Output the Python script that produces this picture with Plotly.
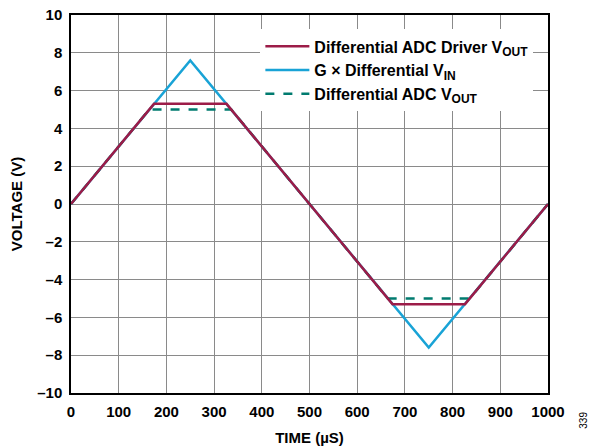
import plotly.graph_objects as go

# time (µs) and voltage (V)
t_vin = [0, 250, 750, 1000]
v_vin = [0, 7.6, -7.6, 0]

t_driver = [0, 174, 326, 674, 826, 1000]
v_driver = [0, 5.3, 5.3, -5.3, -5.3, 0]

t_adc = [0, 164, 336, 664, 836, 1000]
v_adc = [0, 5.0, 5.0, -5.0, -5.0, 0]

x_ticks = [0, 100, 200, 300, 400, 500, 600, 700, 800, 900, 1000]
y_ticks = [-10, -8, -6, -4, -2, 0, 2, 4, 6, 8, 10]
y_labels = [str(v).replace("-", "–") for v in y_ticks]

RED = "#9c1c48"
BLUE = "#19a3d6"
GREEN = "#007b6f"
FONT = "Liberation Sans"


def sub(s):
    return "<sub><span style='font-size:12px'>%s</span></sub>" % s


fig = go.Figure()
fig.add_trace(go.Scatter(x=t_vin, y=v_vin, mode="lines", name="<b>G × Differential V%s</b>" % sub("IN"),
                         line=dict(color=BLUE, width=2.5), legendrank=2))
fig.add_trace(go.Scatter(x=t_adc, y=v_adc, mode="lines", name="<b>Differential ADC V%s</b>" % sub("OUT"),
                         line=dict(color=GREEN, width=2.5, dash="dash"), legendrank=3))
fig.add_trace(go.Scatter(x=t_driver, y=v_driver, mode="lines", name="<b>Differential ADC Driver V%s</b>" % sub("OUT"),
                         line=dict(color=RED, width=2.5), legendrank=1))

axis_common = dict(showgrid=True, gridcolor="#8a8a8a", gridwidth=1, showline=True, linecolor="black",
                   linewidth=1.5, mirror=True, zeroline=False, ticks="", automargin=False,
                   ticklabeloverflow="allow",
                   tickfont=dict(family=FONT, size=15, color="black"))

# the page body has an 8px margin, so the figure is 8px smaller than the window
fig.update_xaxes(range=[0, 1000], tickvals=x_ticks, ticktext=["<b>%d</b>" % v for v in x_ticks],
                 ticklabelstandoff=4,
                 title=dict(text="<b>TIME (µS)</b>", font=dict(family=FONT, size=15, color="black"), standoff=19),
                 **axis_common)
fig.update_yaxes(range=[-10, 10], tickvals=y_ticks, ticktext=["<b>%s</b>" % s for s in y_labels],
                 ticklabelstandoff=4,
                 title=dict(text="<b>VOLTAGE (V)</b>", font=dict(family=FONT, size=15, color="black"), standoff=20),
                 **axis_common)

fig.add_annotation(text="339", xref="paper", yref="paper", x=1.09, y=-0.10, showarrow=False,
                   textangle=-90, font=dict(family=FONT, size=10, color="black"))

fig.update_layout(
    width=588, height=438,
    margin=dict(l=63, r=48, t=7, b=53),
    plot_bgcolor="white", paper_bgcolor="white",
    showlegend=True,
    legend=dict(x=0.397, xanchor="left", y=0.962, yanchor="top", bgcolor="white",
                font=dict(family=FONT, size=16, color="black"), tracegroupgap=0,
                itemwidth=44),
)

fig.write_html("out.html")
